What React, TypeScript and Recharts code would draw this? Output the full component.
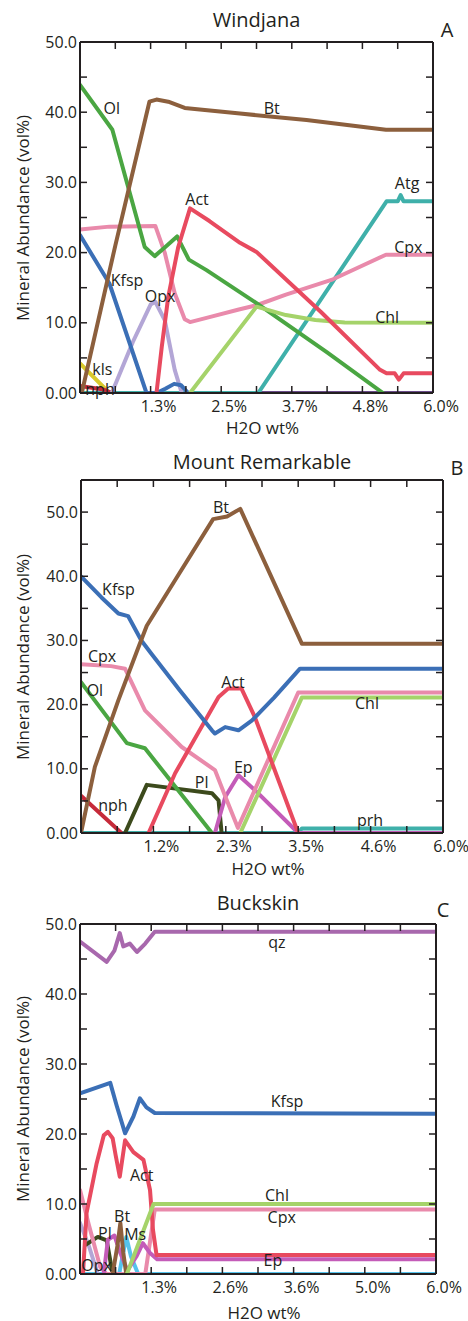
import React from "react";
import { LineChart, Line, XAxis, YAxis, ReferenceDot } from "recharts";

type Pt = [number, number];

const ink = "#231f20";
const font = "'Open Sans', sans-serif";

// shared x tick positions (label on every second one)
const xTicks = [0, 0.6, 1.2, 1.8, 2.4, 3.0, 3.6, 4.2, 4.8, 5.4, 6.0];

// ---------- Windjana ----------
const wjTickLabels = ["1.3%", "2.5%", "3.7%", "4.8%", "6.0%"];
const wjYTicks = [0, 5, 10, 15, 20, 25, 30, 35, 40, 45, 50];
const wjBase: Pt[] = [[0, 0], [6, 0]];
const wjAtg: Pt[] = [[0, 0], [3.03, 0], [5.21, 27.3], [5.4, 27.3], [5.45, 28.2], [5.5, 27.3], [6, 27.3]];
const wjKls: Pt[] = [[0, 4.2], [0.5, 0]];
const wjNph: Pt[] = [[0, 1.0], [0.4, 0.5], [0.55, 0]];
const wjOpx: Pt[] = [[0.54, 0], [0.9, 7.3], [1.2, 12.6], [1.28, 13], [1.44, 10.4], [1.61, 3.3], [1.73, 0]];
const wjKfsp: Pt[] = [[0, 22.5], [0.5, 15.6], [1.13, 0], [1.3, 0], [1.45, 0.6], [1.6, 1.3], [1.72, 1.1], [1.84, 0]];
const wjCpx: Pt[] = [[0, 23.3], [0.5, 23.7], [1.28, 23.8], [1.44, 20], [1.61, 14.2], [1.78, 10.5], [1.87, 10.1], [2.2, 10.8], [2.7, 11.9], [3.0, 12.5], [3.5, 14], [4.3, 16.2], [5.2, 19.7], [6, 19.7]];
const wjOl: Pt[] = [[0, 43.9], [0.55, 37.5], [0.77, 30.8], [1.1, 20.8], [1.27, 19.5], [1.45, 20.8], [1.65, 22.3], [1.85, 19], [2.15, 17.5], [3.0, 12.8], [4.2, 5.8], [5.15, 0]];
const wjChl: Pt[] = [[1.87, 0], [3.0, 12.3], [3.5, 11.1], [4.0, 10.4], [4.5, 10.05], [6, 10]];
const wjAct: Pt[] = [[1.3, 0], [1.39, 6.6], [1.5, 13.7], [1.67, 20.8], [1.87, 26.3], [2.2, 24.5], [2.72, 21.4], [3.0, 20.1], [4.1, 11.5], [5.1, 3.3], [5.21, 2.8], [5.35, 2.8], [5.42, 1.9], [5.5, 2.8], [6, 2.8]];
const wjBt: Pt[] = [[0.03, 0], [0.6, 21], [1.18, 41.5], [1.3, 41.8], [1.5, 41.5], [1.78, 40.6], [2.72, 39.8], [3.85, 38.9], [5.2, 37.5], [6, 37.5]];

// ---------- Mount Remarkable ----------
const mrTickLabels = ["1.2%", "2.3%", "3.5%", "4.6%", "6.0%"];
const mrYTicks = [0, 5, 10, 15, 20, 25, 30, 35, 40, 45, 50, 55];
const mrPrh: Pt[] = [[0, 0], [3.6, 0], [3.66, 0.7], [6, 0.7]];
const mrNph: Pt[] = [[0, 5.8], [0.67, 0]];
const mrPl: Pt[] = [[0.73, 0], [1.09, 7.5], [2.17, 6.2], [2.28, 5.1], [2.33, 0]];
const mrOl: Pt[] = [[0, 23.5], [0.76, 14.0], [1.06, 13.2], [2.17, 0]];
const mrEp: Pt[] = [[2.22, 0], [2.39, 5.6], [2.61, 9.0], [2.88, 6.7], [3.6, 0], [6, 0]];
const mrCpx: Pt[] = [[0, 26.3], [0.5, 26], [0.73, 25.6], [1.06, 19.1], [1.67, 13.4], [2.22, 9.8], [2.4, 5.5], [2.6, 0.8], [3.6, 21.9], [6, 21.9]];
const mrChl: Pt[] = [[2.64, 0], [3.66, 21.1], [6, 21.1]];
const mrAct: Pt[] = [[1.12, 0], [1.56, 9.3], [2.28, 21.2], [2.44, 22.5], [2.66, 22.5], [2.88, 18.1], [3.6, 0]];
const mrKfsp: Pt[] = [[0, 40], [0.34, 36.7], [0.62, 34.2], [0.78, 33.8], [1.0, 30], [1.17, 27.9], [1.64, 22.2], [2.17, 16], [2.22, 15.5], [2.39, 16.5], [2.61, 16], [2.83, 17.5], [3.2, 21.1], [3.63, 25.6], [6, 25.6]];
const mrBt: Pt[] = [[0, 0], [0.23, 10.3], [0.62, 20.7], [0.93, 28.4], [1.09, 32.3], [1.6, 40], [2.19, 48.9], [2.42, 49.3], [2.64, 50.5], [3.66, 29.5], [6, 29.5]];

// ---------- Buckskin ----------
const bkTickLabels = ["1.3%", "2.6%", "3.6%", "5.0%", "6.0%"];
const bkYTicks = [0, 5, 10, 15, 20, 25, 30, 35, 40, 45, 50];
const bkMs: Pt[] = [[0, 0], [0.66, 0], [0.78, 5.3], [0.86, 2.5], [0.98, 0], [6, 0]];
const bkOpx: Pt[] = [[0, 7.3], [0.15, 4], [0.3, 0]];
const bkPl: Pt[] = [[0.1, 4.2], [0.3, 5.3], [0.45, 4.8], [0.55, 0]];
const bkCpx: Pt[] = [[0, 12], [0.15, 7], [0.34, 1], [0.45, 0], [1.1, 0], [1.26, 9.2], [6, 9.2]];
const bkEp: Pt[] = [[0.4, 0], [0.47, 4.9], [0.58, 5.5], [0.68, 3], [0.8, 0.5], [0.95, 2.5], [1.06, 4.4], [1.18, 3], [1.3, 2.1], [6, 2.1]];
const bkBt: Pt[] = [[0.55, 0], [0.63, 4], [0.68, 7.3], [0.73, 3], [0.78, 0]];
const bkAct: Pt[] = [[0.05, 0], [0.11, 8.7], [0.28, 15.8], [0.4, 19.8], [0.47, 20.3], [0.55, 19.4], [0.6, 17], [0.67, 13.9], [0.76, 19.1], [0.9, 17.4], [1.07, 16.3], [1.18, 12], [1.23, 6.3], [1.29, 2.7], [6, 2.7]];
const bkChl: Pt[] = [[0.79, 0], [1.24, 10], [6, 10]];
const bkKfsp: Pt[] = [[0, 25.8], [0.51, 27.3], [0.62, 24], [0.76, 20.1], [0.9, 22.5], [1.01, 25.1], [1.12, 23.8], [1.26, 23.0], [6, 22.9]];
const bkQz: Pt[] = [[0, 47.5], [0.45, 44.6], [0.58, 46.2], [0.67, 48.7], [0.73, 46.8], [0.84, 47.2], [0.96, 46.0], [1.1, 47.2], [1.26, 48.9], [6, 48.9]];

const C = {
  bt: "#8c5f3d",
  ol: "#4aa642",
  kfsp: "#3b6fb6",
  cpx: "#e98aab",
  act: "#e84a5f",
  opx: "#b3a6d6",
  chl: "#a5d36a",
  atg: "#3fb0aa",
  kls: "#d9c92c",
  nph: "#c62a3a",
  pl: "#3c4a1c",
  ep: "#c45bb8",
  qz: "#a868ad",
  ms: "#55c3ec",
  base: "#6b4c8a",
};

type Series = { name: string; color: string; pts: Pt[] };
type Note = { text: string; x: number; y: number };

const wjSeries: Series[] = [
  { name: "base", color: C.base, pts: wjBase },
  { name: "Atg", color: C.atg, pts: wjAtg },
  { name: "kls", color: C.kls, pts: wjKls },
  { name: "nph", color: C.nph, pts: wjNph },
  { name: "Opx", color: C.opx, pts: wjOpx },
  { name: "Kfsp", color: C.kfsp, pts: wjKfsp },
  { name: "Cpx", color: C.cpx, pts: wjCpx },
  { name: "Ol", color: C.ol, pts: wjOl },
  { name: "Chl", color: C.chl, pts: wjChl },
  { name: "Act", color: C.act, pts: wjAct },
  { name: "Bt", color: C.bt, pts: wjBt },
];
const wjNotes: Note[] = [
  { text: "Ol", x: 0.54, y: 40.6 },
  { text: "Bt", x: 3.26, y: 40.6 },
  { text: "Act", x: 1.99, y: 27.6 },
  { text: "Atg", x: 5.56, y: 29.9 },
  { text: "Cpx", x: 5.58, y: 20.8 },
  { text: "Chl", x: 5.22, y: 10.8 },
  { text: "Kfsp", x: 0.8, y: 16.1 },
  { text: "Opx", x: 1.36, y: 13.8 },
  { text: "kls", x: 0.38, y: 3.4 },
  { text: "nph", x: 0.34, y: 0.5 },
];

const mrSeries: Series[] = [
  { name: "prh", color: C.atg, pts: mrPrh },
  { name: "nph", color: C.nph, pts: mrNph },
  { name: "Pl", color: C.pl, pts: mrPl },
  { name: "Ol", color: C.ol, pts: mrOl },
  { name: "Ep", color: C.ep, pts: mrEp },
  { name: "Cpx", color: C.cpx, pts: mrCpx },
  { name: "Chl", color: C.chl, pts: mrChl },
  { name: "Act", color: C.act, pts: mrAct },
  { name: "Kfsp", color: C.kfsp, pts: mrKfsp },
  { name: "Bt", color: C.bt, pts: mrBt },
];
const mrNotes: Note[] = [
  { text: "Bt", x: 2.32, y: 50.8 },
  { text: "Kfsp", x: 0.62, y: 38.0 },
  { text: "Cpx", x: 0.35, y: 27.6 },
  { text: "Ol", x: 0.23, y: 22.2 },
  { text: "Act", x: 2.52, y: 23.4 },
  { text: "Chl", x: 4.74, y: 20.2 },
  { text: "Ep", x: 2.69, y: 10.3 },
  { text: "Pl", x: 2.0, y: 7.9 },
  { text: "nph", x: 0.53, y: 4.3 },
  { text: "prh", x: 4.79, y: 2.0 },
];

const bkSeries: Series[] = [
  { name: "Ms", color: C.ms, pts: bkMs },
  { name: "Opx", color: C.opx, pts: bkOpx },
  { name: "Pl", color: C.pl, pts: bkPl },
  { name: "Cpx", color: C.cpx, pts: bkCpx },
  { name: "Ep", color: C.ep, pts: bkEp },
  { name: "Bt", color: C.bt, pts: bkBt },
  { name: "Act", color: C.act, pts: bkAct },
  { name: "Chl", color: C.chl, pts: bkChl },
  { name: "Kfsp", color: C.kfsp, pts: bkKfsp },
  { name: "qz", color: C.qz, pts: bkQz },
];
const bkNotes: Note[] = [
  { text: "qz", x: 3.32, y: 47.4 },
  { text: "Kfsp", x: 3.49, y: 24.6 },
  { text: "Act", x: 1.04, y: 14.1 },
  { text: "Chl", x: 3.32, y: 11.3 },
  { text: "Cpx", x: 3.4, y: 8.1 },
  { text: "Ep", x: 3.25, y: 2.0 },
  { text: "Bt", x: 0.71, y: 8.3 },
  { text: "Pl", x: 0.42, y: 5.8 },
  { text: "Ms", x: 0.93, y: 5.6 },
  { text: "Opx", x: 0.28, y: 1.3 },
];

const fmtY = (v: number) => (v % 10 !== 0 ? "" : v === 0 ? "0.00" : v.toFixed(1));
const rows = (pts: Pt[]) => pts.map(([x, y]) => ({ x, y }));

type Frame = { top: number; right: number; bottom: number; left: number };

type PanelProps = {
  top: number;
  height: number;
  plot: Frame; // plot-area edges measured from the panel's outer box
  yMax: number;
  yTicks: number[];
  xLabels: string[];
  series: Series[];
  notes: Note[];
  title: string;
  letter: string;
  titleY: number;
  letterX: number;
  letterY: number;
  xLabelY: number;
};

// axis band sizes; the remaining gap goes to the chart margin
const Y_W = 40;
const X_H = 30;
const TOP_H = 10;
const RIGHT_W = 10;
const TICK = 7;

function Panel(p: PanelProps) {
  const margin = {
    top: p.plot.top - TOP_H,
    right: p.plot.right - RIGHT_W,
    bottom: p.plot.bottom - X_H,
    left: p.plot.left - Y_W,
  };
  const plotW = 468 - p.plot.left - p.plot.right;
  const left = p.plot.left;
  const right = 468 - p.plot.right;
  const top = p.plot.top;
  const bottom = p.height - p.plot.bottom;
  const cx = left + plotW / 2;
  const cy = top + (bottom - top) / 2;
  const axisLine = { stroke: ink, strokeWidth: 2 };

  // inward tick marks, labels outside the frame
  const BottomTick = (props: any) => {
    const { x, payload } = props;
    const i = xTicks.indexOf(payload.value);
    const text = i > 0 && i % 2 === 0 ? p.xLabels[i / 2 - 1] : "";
    return (
      <g>
        <line x1={x} x2={x} y1={bottom} y2={bottom - TICK} stroke={ink} strokeWidth={1.5} />
        {text && (
          <text x={x + 8} y={bottom + 8} dy="0.71em" textAnchor="middle" fill={ink} fontSize={16}>
            {text}
          </text>
        )}
      </g>
    );
  };
  const TopTick = (props: any) => (
    <line x1={props.x} x2={props.x} y1={top} y2={top + TICK} stroke={ink} strokeWidth={1.5} />
  );
  const LeftTick = (props: any) => {
    const { y, payload } = props;
    const text = fmtY(payload.value);
    return (
      <g>
        <line x1={left} x2={left + TICK} y1={y} y2={y} stroke={ink} strokeWidth={1.5} />
        {text && (
          <text x={left - 3} y={y} dy="0.355em" textAnchor="end" fill={ink} fontSize={16}>
            {text}
          </text>
        )}
      </g>
    );
  };
  const RightTick = (props: any) => (
    <line x1={right - TICK} x2={right} y1={props.y} y2={props.y} stroke={ink} strokeWidth={1.5} />
  );

  const abs = (x: number, y: number, size: number, extra?: React.CSSProperties) => ({
    position: "absolute" as const,
    left: x,
    top: y,
    transform: "translate(-50%, -50%)",
    fontSize: size,
    lineHeight: 1,
    whiteSpace: "nowrap" as const,
    color: ink,
    ...extra,
  });

  return (
    <div style={{ position: "absolute", left: 0, top: p.top, width: 468, height: p.height }}>
      <LineChart width={468} height={p.height} margin={margin}>
        <XAxis
          dataKey="x"
          type="number"
          domain={[0, 6]}
          ticks={xTicks}
          interval={0}
          height={X_H}
          tick={BottomTick}
          tickLine={false}
          axisLine={axisLine}
          allowDataOverflow
        />
        <XAxis
          xAxisId="top"
          orientation="top"
          dataKey="x"
          type="number"
          domain={[0, 6]}
          ticks={xTicks}
          interval={0}
          height={TOP_H}
          tick={TopTick}
          tickLine={false}
          axisLine={axisLine}
          allowDataOverflow
        />
        <YAxis
          type="number"
          domain={[0, p.yMax]}
          ticks={p.yTicks}
          interval={0}
          width={Y_W}
          tick={LeftTick}
          tickLine={false}
          axisLine={axisLine}
          allowDataOverflow
        />
        <YAxis
          yAxisId="right"
          orientation="right"
          type="number"
          domain={[0, p.yMax]}
          ticks={p.yTicks}
          interval={0}
          width={RIGHT_W}
          tick={RightTick}
          tickLine={false}
          axisLine={axisLine}
          allowDataOverflow
        />
        {p.series.map((s, i) => (
          <Line
            key={`${s.name}-${i}`}
            data={rows(s.pts)}
            dataKey="y"
            name={s.name}
            stroke={s.color}
            strokeWidth={4}
            strokeLinejoin="round"
            strokeLinecap="round"
            dot={false}
            activeDot={false}
            isAnimationActive={false}
          />
        ))}
        {p.notes.map((n, i) => (
          <ReferenceDot
            key={`note-${i}`}
            x={n.x}
            y={n.y}
            r={0}
            fill="none"
            stroke="none"
            ifOverflow="visible"
            label={{ value: n.text, position: "center", fill: ink, fontSize: 16 }}
          />
        ))}
      </LineChart>
      <div style={abs(cx, p.titleY, 20)}>{p.title}</div>
      <div style={abs(p.letterX, p.letterY, 20)}>{p.letter}</div>
      <div style={abs(cx + 6, p.xLabelY, 17)}>H2O wt%</div>
      <div style={abs(22, cy, 17, { transform: "translate(-50%, -50%) rotate(-90deg)" })}>
        Mineral Abundance (vol%)
      </div>
    </div>
  );
}

export default function App() {
  return (
    <div style={{ position: "absolute", left: 0, top: 0, width: 468, height: 1321, background: "#fff", fontFamily: font }}>
      <Panel
        top={0}
        height={440}
        plot={{ top: 42, right: 35, bottom: 47, left: 80 }}
        yMax={50}
        yTicks={wjYTicks}
        xLabels={wjTickLabels}
        series={wjSeries}
        notes={wjNotes}
        title="Windjana"
        letter="A"
        titleY={20}
        letterX={447}
        letterY={30}
        xLabelY={427}
      />
      <Panel
        top={440}
        height={440}
        plot={{ top: 40, right: 25, bottom: 47, left: 81 }}
        yMax={55}
        yTicks={mrYTicks}
        xLabels={mrTickLabels}
        series={mrSeries}
        notes={mrNotes}
        title="Mount Remarkable"
        letter="B"
        titleY={22}
        letterX={457}
        letterY={28}
        xLabelY={428}
      />
      <Panel
        top={880}
        height={441}
        plot={{ top: 44, right: 32, bottom: 47, left: 80 }}
        yMax={50}
        yTicks={bkYTicks}
        xLabels={bkTickLabels}
        series={bkSeries}
        notes={bkNotes}
        title="Buckskin"
        letter="C"
        titleY={23}
        letterX={443}
        letterY={30}
        xLabelY={432}
      />
    </div>
  );
}
